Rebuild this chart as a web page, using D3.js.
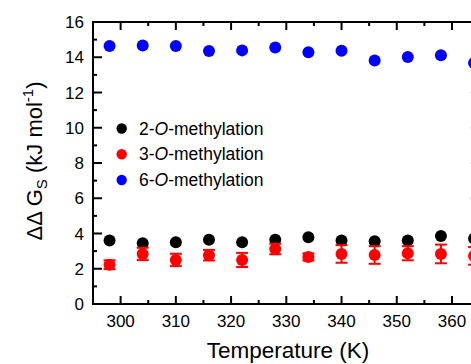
<!DOCTYPE html>
<html>
<head>
<meta charset="utf-8">
<style>
    body { margin: 0; background: #fff; }
    svg text { font-family: "Liberation Sans", Arial, sans-serif; fill: #000; }
    .frame { fill: none; stroke: #000; stroke-width: 2; }
    .tick { stroke: #000; stroke-width: 2; }
</style>
</head>
<body>
<svg id="chart" width="471" height="364"></svg>
<script src="https://cdn.jsdelivr.net/npm/d3@7"></script>
<script>
    // temperatures (K)
    let temps = [298, 304, 310, 316, 322, 328, 334, 340, 346, 352, 358, 364]

    // ddGs values (kJ/mol)
    let methyl2 = [3.60, 3.45, 3.50, 3.64, 3.50, 3.64, 3.79, 3.60, 3.56, 3.60, 3.86, 3.71]
    let methyl2Err = [0, 0, 0, 0, 0, 0, 0, 0, 0, 0, 0, 0]
    let methyl3 = [2.23, 2.84, 2.50, 2.77, 2.50, 3.12, 2.67, 2.84, 2.78, 2.88, 2.84, 2.73]
    let methyl3Err = [0.25, 0.35, 0.35, 0.3, 0.4, 0.3, 0.2, 0.5, 0.5, 0.4, 0.53, 0.5]
    let methyl6 = [14.64, 14.66, 14.64, 14.35, 14.39, 14.55, 14.28, 14.37, 13.82, 14.01, 14.11, 13.67]

    let seriesNames = ["2-", "3-", "6-"]
    let seriesColors = ["#000000", "#ff0000", "#0000ff"]

    let xTicks = [300, 310, 320, 330, 340, 350, 360]
    let yTicks = [0, 2, 4, 6, 8, 10, 12, 14, 16]

    let svg = d3.select("#chart")

    let plotLeft = 93, plotTop = 22, plotBottom = 304
    let xScale = d3.scaleLinear().domain([295, 365]).range([plotLeft, 479.6])
    let yScale = d3.scaleLinear().domain([0, 16]).range([plotBottom, plotTop])
    let plotRight = xScale(365)

    // frame
    svg.append("rect")
        .attr("class", "frame")
        .attr("x", plotLeft).attr("y", plotTop)
        .attr("width", plotRight - plotLeft).attr("height", plotBottom - plotTop)

    // x ticks (major + minor), inward on bottom and top
    let xMinor = d3.range(295, 366, 5)
    xMinor.forEach(v => {
        let len = (v % 10 == 0) ? 8 : 4
        svg.append("line").attr("class", "tick")
            .attr("x1", xScale(v)).attr("x2", xScale(v))
            .attr("y1", plotBottom).attr("y2", plotBottom - len)
        svg.append("line").attr("class", "tick")
            .attr("x1", xScale(v)).attr("x2", xScale(v))
            .attr("y1", plotTop).attr("y2", plotTop + len)
    })

    let yMinor = d3.range(0, 17, 1)
    yMinor.forEach(v => {
        let len = (v % 2 == 0) ? 9 : 4
        svg.append("line").attr("class", "tick")
            .attr("x1", plotLeft).attr("x2", plotLeft + len)
            .attr("y1", yScale(v)).attr("y2", yScale(v))
        svg.append("line").attr("class", "tick")
            .attr("stroke-opacity", 0.3)
            .attr("x1", plotRight).attr("x2", plotRight - len)
            .attr("y1", yScale(v)).attr("y2", yScale(v))
    })

    // tick labels
    svg.selectAll(".xlab")
        .data(xTicks)
        .enter()
        .append("text")
        .attr("x", d => xScale(d))
        .attr("y", 327)
        .attr("text-anchor", "middle")
        .style("font-size", "17px")
        .text(d => d)

    svg.selectAll(".ylab")
        .data(yTicks)
        .enter()
        .append("text")
        .attr("x", 84)
        .attr("y", d => yScale(d) + 6)
        .attr("text-anchor", "end")
        .style("font-size", "17px")
        .text(d => d)

    // axis titles
    svg.append("text")
        .attr("x", 288).attr("y", 358)
        .attr("text-anchor", "middle")
        .style("font-size", "22.5px")
        .text("Temperature (K)")

    let yt = svg.append("text")
        .attr("transform", "translate(42,161) rotate(-90)")
        .attr("text-anchor", "middle")
        .style("font-size", "22px")
    yt.append("tspan").text("ΔΔ G")
    yt.append("tspan").attr("dy", 5).style("font-size", "15px").text("S")
    yt.append("tspan").attr("dy", -5).text(" (kJ mol")
    yt.append("tspan").attr("dy", -9).style("font-size", "15px").text("-1")
    yt.append("tspan").attr("dy", 9).text(")")

    // data
    let all = [
        temps.map((t, i) => ({ t: t, v: methyl2[i], e: methyl2Err[i] })),
        temps.map((t, i) => ({ t: t, v: methyl3[i], e: methyl3Err[i] })),
        temps.map((t, i) => ({ t: t, v: methyl6[i], e: 0 }))
    ]

    all.forEach((data, s) => {
        let g = svg.append("g")
        let color = seriesColors[s]
        let bars = g.selectAll("g.err").data(data.filter(d => d.e > 0)).enter().append("g")
        bars.append("line")
            .attr("x1", d => xScale(d.t)).attr("x2", d => xScale(d.t))
            .attr("y1", d => yScale(d.v - d.e)).attr("y2", d => yScale(d.v + d.e))
            .attr("stroke", color).attr("stroke-width", 2)
        bars.append("line")
            .attr("x1", d => xScale(d.t) - 6).attr("x2", d => xScale(d.t) + 6)
            .attr("y1", d => yScale(d.v + d.e)).attr("y2", d => yScale(d.v + d.e))
            .attr("stroke", color).attr("stroke-width", 2)
        bars.append("line")
            .attr("x1", d => xScale(d.t) - 6).attr("x2", d => xScale(d.t) + 6)
            .attr("y1", d => yScale(d.v - d.e)).attr("y2", d => yScale(d.v - d.e))
            .attr("stroke", color).attr("stroke-width", 2)
        g.selectAll("circle")
            .data(data)
            .enter()
            .append("circle")
            .attr("cx", d => xScale(d.t))
            .attr("cy", d => yScale(d.v))
            .attr("r", 6)
            .attr("fill", color)
    })

    // legend
    let legendY = [128.5, 154.3, 180]
    seriesNames.forEach((n, i) => {
        svg.append("circle")
            .attr("cx", 121.7).attr("cy", legendY[i])
            .attr("r", 5.2).attr("fill", seriesColors[i])
        let t = svg.append("text")
            .attr("x", 139).attr("y", legendY[i] + 6)
            .style("font-size", "17.5px")
        t.append("tspan").text(n)
        t.append("tspan").style("font-style", "italic").text("O")
        t.append("tspan").text("-methylation")
    })
</script>
</body>
</html>
